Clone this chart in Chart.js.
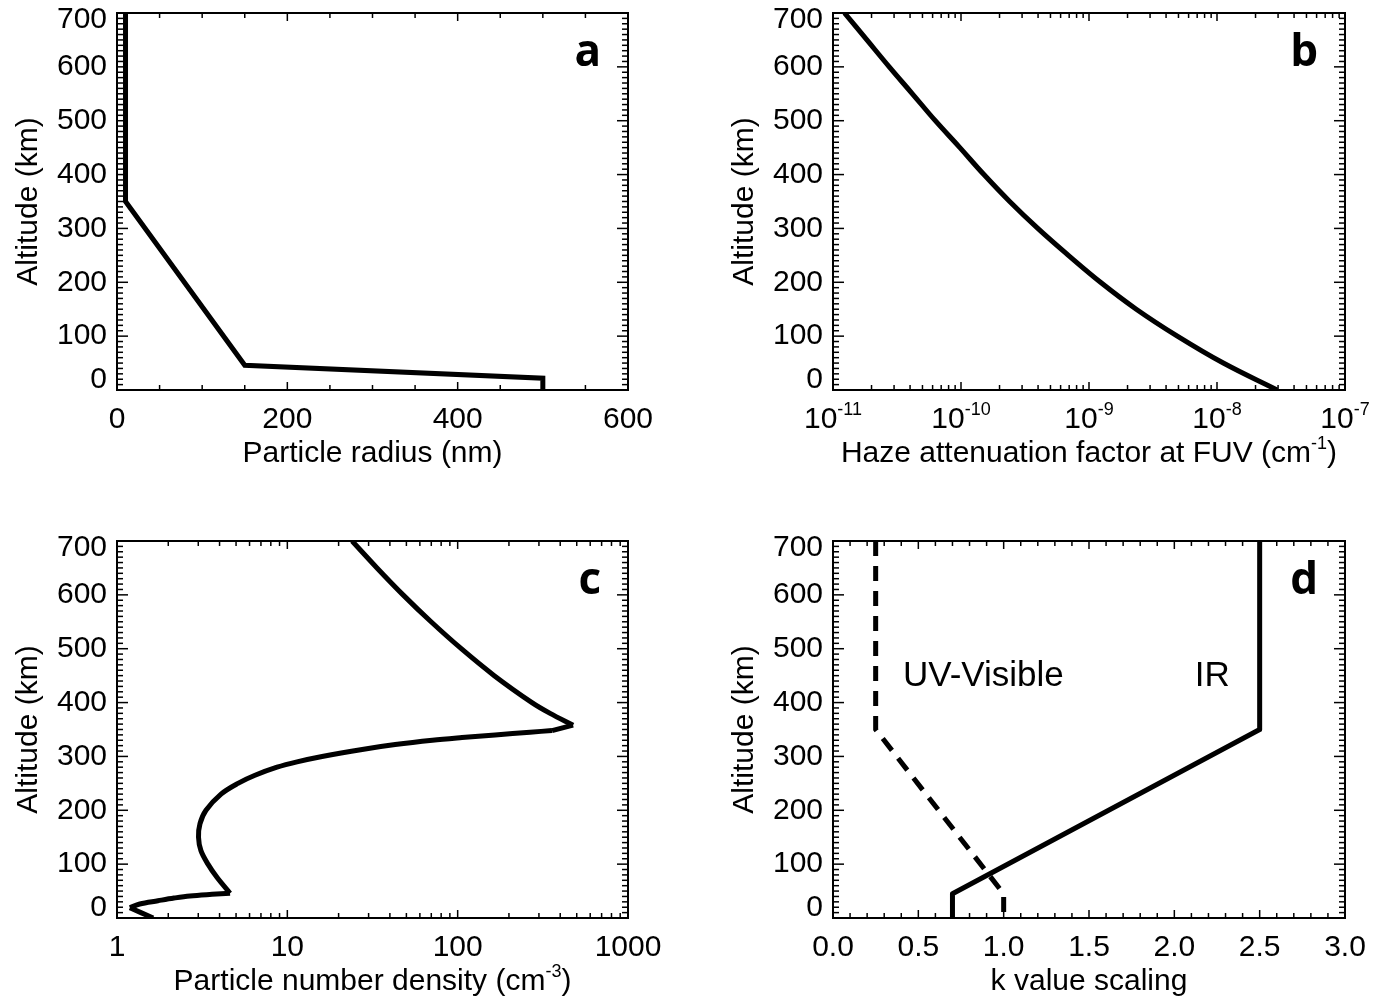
<!DOCTYPE html>
<html>
<head>
<meta charset="utf-8">
<title>Haze profiles</title>
<script src="https://cdn.jsdelivr.net/npm/chart.js@4.4.1/dist/chart.umd.min.js"></script>
<style>
  html, body { margin: 0; padding: 0; background: #fff; }
  #page { position: relative; width: 1385px; height: 998px; background: #fff; }
  canvas { position: absolute; }
</style>
</head>
<body>
<div id="page">
  <canvas id="panelA" width="692" height="499" style="left:0;top:0"></canvas>
  <canvas id="panelB" width="693" height="499" style="left:692px;top:0"></canvas>
  <canvas id="panelC" width="692" height="499" style="left:0;top:499px"></canvas>
  <canvas id="panelD" width="693" height="499" style="left:692px;top:499px"></canvas>
</div>
<script>
// altitude axis, same for all four panels
var altTicks = [0, 100, 200, 300, 400, 500, 600, 700];

// (a) particle radius
var radiusNm = [10, 10, 150, 500, 500];
var radiusAlt = [700, 350, 46, 22, 0];
var radiusTicks = [0, 200, 400, 600];

// (b) haze attenuation factor at FUV
var fuvAlt = [0, 50, 100, 150, 200, 250, 300, 350, 400, 450, 500, 550, 600, 650, 700];
var fuvAtten = [2.95e-8, 1.12e-8, 4.9e-9, 2.34e-9, 1.23e-9, 6.9e-10, 3.98e-10, 2.4e-10,
                1.51e-10, 9.8e-11, 6.3e-11, 4.17e-11, 2.75e-11, 1.84e-11, 1.23e-11];
var fuvTicks = [1e-11, 1e-10, 1e-9, 1e-8, 1e-7];
var fuvTickExp = ['-11', '-10', '-9', '-8', '-7'];

// (c) particle number density
var densAlt = [700, 650, 600, 550, 500, 450, 400, 380, 358, 348, 345, 340, 335, 330, 322, 313,
               300, 290, 280, 265, 250, 230, 200, 175, 150, 125, 100, 75, 46, 44, 41, 37, 32, 26, 19, 0];
var density = [24.0, 33.6, 47.8, 69.8, 105, 164, 273, 349, 476, 358, 266, 166, 106, 71, 43, 27.5,
               16.0, 11.4, 8.7, 6.46, 5.13, 4.08, 3.33, 3.07, 3.01, 3.11, 3.42, 3.87, 4.61, 3.61, 2.68, 2.16, 1.74, 1.36, 1.19, 1.63];
var densCorners = [8, 9, 28, 34]; // indices where the profile has a sharp corner
var densTicks = [1, 10, 100, 1000];

// (d) k value scaling
var kAlt = [700, 350, 45, 0];
var kUV = [0.25, 0.25, 1.0, 1.0];
var kIR = [2.5, 2.5, 0.7, 0.7];
var kTicks = [0, 0.5, 1, 1.5, 2, 2.5, 3];
var kTickLabels = ['0.0', '0.5', '1.0', '1.5', '2.0', '2.5', '3.0'];

var FONT = '"Liberation Sans", Arial, Helvetica, sans-serif';

function pts(xs, ys) {
    return xs.map(function (x, i) { return {x: x, y: ys[i]}; });
}

function lineStyle(extra) {
    var ds = {
        borderColor: '#000',
        backgroundColor: '#000',
        borderWidth: 5,
        pointRadius: 0,
        fill: false,
        tension: 0
    };
    for (var k in extra) ds[k] = extra[k];
    return ds;
}

function minorLin(min, max, step, skip) {
    var out = [];
    for (var i = 0; min + i * step <= max + 1e-9; i++) {
        var v = min + i * step;
        if (i % skip !== 0) out.push(v);
    }
    return out;
}

function minorLog(p0, p1) {
    var out = [];
    for (var p = p0; p < p1; p++)
        for (var m = 2; m <= 9; m++) out.push(m * Math.pow(10, p));
    return out;
}

// text with superscript pieces: parts = [[text, isSup], ...]
function drawRich(ctx, parts, x, y) {
    var w = 0;
    parts.forEach(function (p) {
        ctx.font = (p[1] ? '18px ' : '30px ') + FONT;
        w += ctx.measureText(p[0]).width;
    });
    var cx = x - w / 2;
    ctx.textAlign = 'left';
    ctx.textBaseline = 'alphabetic';
    parts.forEach(function (p) {
        ctx.font = (p[1] ? '18px ' : '30px ') + FONT;
        ctx.fillText(p[0], cx, p[1] ? y - 13 : y);
        cx += ctx.measureText(p[0]).width;
    });
}

function framePlugin(spec) {
    return {
        id: 'frame',
        afterDraw: function (chart) {
            var ctx = chart.ctx, a = chart.chartArea;
            var xs = chart.scales.x, ys = chart.scales.y;
            ctx.save();
            ctx.strokeStyle = '#000';
            ctx.fillStyle = '#000';

            function seg(x1, y1, x2, y2) {
                ctx.beginPath(); ctx.moveTo(x1, y1); ctx.lineTo(x2, y2); ctx.stroke();
            }
            function xTick(v, len) {
                var p = xs.getPixelForValue(v);
                seg(p, a.bottom, p, a.bottom - len);
                seg(p, a.top, p, a.top + len);
            }
            function yTick(v, len) {
                var p = ys.getPixelForValue(v);
                seg(a.left, p, a.left + len, p);
                seg(a.right, p, a.right - len, p);
            }

            // inward ticks on all four sides
            ctx.lineWidth = 1.5;
            spec.xMinor.forEach(function (v) { xTick(v, 5); });
            spec.xMajor.forEach(function (v) { xTick(v, 8); });
            minorLin(0, 700, 10, 10).forEach(function (v) { yTick(v, 6); });
            altTicks.forEach(function (v) { yTick(v, 11); });

            ctx.lineWidth = 2;
            ctx.strokeRect(a.left, a.top, a.right - a.left, a.bottom - a.top);

            // y tick labels
            ctx.font = '30px ' + FONT;
            ctx.textAlign = 'right';
            ctx.textBaseline = 'middle';
            altTicks.forEach(function (v) {
                var p = ys.getPixelForValue(v);
                p = Math.min(Math.max(p, a.top + 7), a.bottom - 10);
                ctx.fillText(String(v), a.left - 10, p);
            });

            // x tick labels
            spec.xMajor.forEach(function (v, i) {
                var p = xs.getPixelForValue(v);
                var lab = spec.xLabels[i];
                if (typeof lab === 'string') {
                    ctx.font = '30px ' + FONT;
                    ctx.textAlign = 'center';
                    ctx.textBaseline = 'alphabetic';
                    ctx.fillText(lab, p, a.bottom + 38);
                } else {
                    drawRich(ctx, lab, p, a.bottom + 38);
                }
            });

            // axis titles
            drawRich(ctx, spec.xTitle, (a.left + a.right) / 2, a.bottom + 72);
            ctx.save();
            ctx.translate(a.left - 80, (a.top + a.bottom) / 2);
            ctx.rotate(-Math.PI / 2);
            ctx.font = '30px ' + FONT;
            ctx.textAlign = 'center';
            ctx.textBaseline = 'alphabetic';
            ctx.fillText('Altitude (km)', 0, 0);
            ctx.restore();

            // panel letter
            ctx.font = 'bold 44px "Open Sans", ' + FONT;
            ctx.textAlign = 'right';
            ctx.textBaseline = 'alphabetic';
            ctx.fillText(spec.letter, a.right - 27, a.top + 53);

            // annotations placed in data coordinates
            (spec.notes || []).forEach(function (n) {
                ctx.font = '35px ' + FONT;
                ctx.textAlign = 'left';
                ctx.textBaseline = 'middle';
                ctx.fillText(n.text, xs.getPixelForValue(n.x), ys.getPixelForValue(n.y));
            });
            ctx.restore();
        }
    };
}

function makePanel(id, spec) {
    return new Chart(document.getElementById(id), {
        type: 'line',
        data: {datasets: spec.datasets},
        options: {
            responsive: false,
            animation: false,
            events: [],
            layout: {padding: spec.padding},
            plugins: {legend: {display: false}, tooltip: {enabled: false}},
            scales: {
                x: {type: spec.xType, min: spec.xMin, max: spec.xMax, display: false},
                y: {type: 'linear', min: 0, max: 700, display: false}
            }
        },
        plugins: [framePlugin(spec)]
    });
}

// panel a
makePanel('panelA', {
    padding: {left: 117, top: 13, right: 64, bottom: 109},
    xType: 'linear', xMin: 0, xMax: 600,
    xMajor: radiusTicks,
    xMinor: minorLin(0, 600, 50, 4),
    xLabels: radiusTicks.map(String),
    xTitle: [['Particle radius (nm)', 0]],
    letter: 'a',
    datasets: [lineStyle({data: pts(radiusNm, radiusAlt)})]
});

// panel b
makePanel('panelB', {
    padding: {left: 141, top: 13, right: 40, bottom: 109},
    xType: 'logarithmic', xMin: 1e-11, xMax: 1e-7,
    xMajor: fuvTicks,
    xMinor: minorLog(-11, -7),
    xLabels: fuvTickExp.map(function (e) { return [['10', 0], [e, 1]]; }),
    xTitle: [['Haze attenuation factor at FUV (cm', 0], ['-1', 1], [')', 0]],
    letter: 'b',
    datasets: [lineStyle({data: pts(fuvAtten, fuvAlt), tension: 0.4})]
});

// panel c: split at the sharp corners so the smooth parts can use tension
var densSets = [];
var cuts = [0].concat(densCorners, [density.length - 1]);
for (var i = 0; i < cuts.length - 1; i++) {
    densSets.push(lineStyle({
        data: pts(density.slice(cuts[i], cuts[i + 1] + 1), densAlt.slice(cuts[i], cuts[i + 1] + 1)),
        tension: 0.35
    }));
}
makePanel('panelC', {
    padding: {left: 117, top: 42, right: 64, bottom: 80},
    xType: 'logarithmic', xMin: 1, xMax: 1000,
    xMajor: densTicks,
    xMinor: minorLog(0, 3),
    xLabels: densTicks.map(String),
    xTitle: [['Particle number density (cm', 0], ['-3', 1], [')', 0]],
    letter: 'c',
    datasets: densSets
});

// panel d
makePanel('panelD', {
    padding: {left: 141, top: 42, right: 40, bottom: 80},
    xType: 'linear', xMin: 0, xMax: 3,
    xMajor: kTicks,
    xMinor: minorLin(0, 3, 0.1, 5),
    xLabels: kTickLabels,
    xTitle: [['k value scaling', 0]],
    letter: 'd',
    notes: [{text: 'UV-Visible', x: 0.41, y: 449}, {text: 'IR', x: 2.12, y: 449}],
    datasets: [
        lineStyle({data: pts(kUV, kAlt), borderDash: [15, 10]}),
        lineStyle({data: pts(kIR, kAlt), borderJoinStyle: 'round'})
    ]
});
</script>
</body>
</html>
